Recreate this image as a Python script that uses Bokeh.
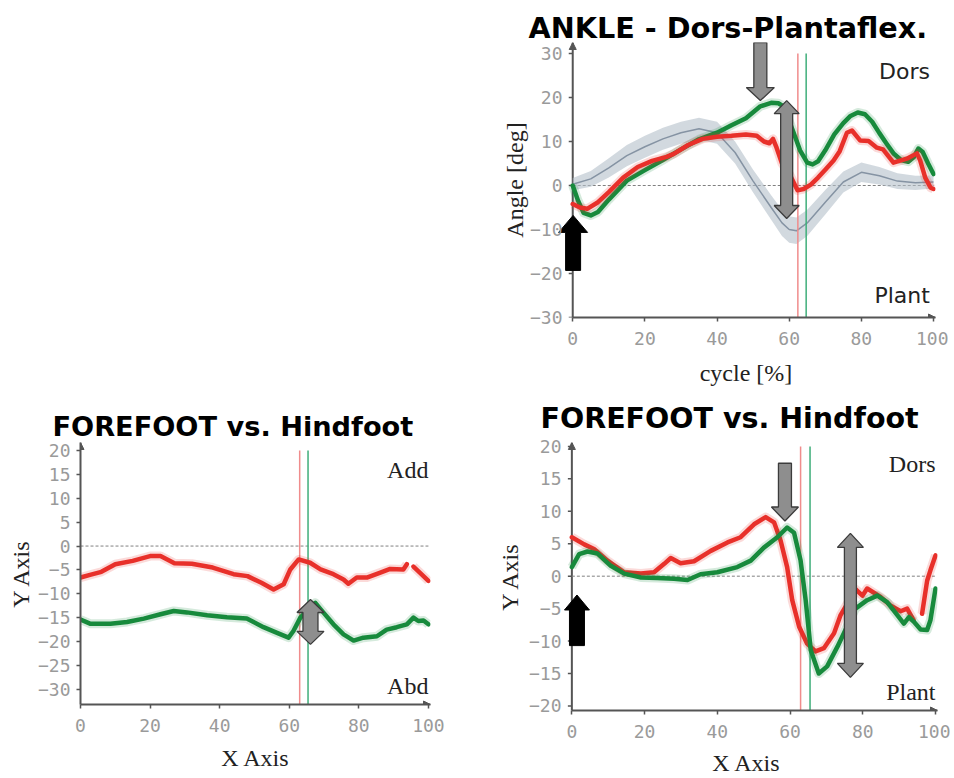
import numpy as np
from bokeh.plotting import figure
from bokeh.models import Range1d, FixedTicker, Label, Spacer, Arrow, NormalHead
from bokeh.layouts import row, column
from bokeh.embed import file_html
from bokeh.resources import INLINE

nan = float("nan")

# ---------------- data ----------------
x_ticks = [0, 20, 40, 60, 80, 100]

# ANKLE panel
ank_y_ticks = [-30, -20, -10, 0, 10, 20, 30]
ank_norm_x = [0, 5, 10, 15, 20, 25, 30, 35, 40, 45, 50, 55, 58, 60, 62, 65, 70, 75, 80, 85, 90, 95, 100]
ank_norm_mean = [0.3, 1.5, 4.0, 6.8, 8.8, 10.6, 12.0, 12.9, 12.0, 7.5, 1.0, -5.0, -8.5, -10.0, -10.3, -8.5, -3.8, 0.8, 3.0, 2.2, 1.0, 0.6, 0.8]
ank_norm_sd = [1.4, 1.8, 2.2, 2.4, 2.5, 2.5, 2.5, 2.5, 2.5, 2.5, 2.6, 2.8, 3.0, 3.0, 3.0, 3.0, 2.8, 2.4, 2.2, 2.0, 1.8, 1.6, 1.5]
ank_red_x = [0, 2, 4, 7, 10, 14, 18, 22, 26, 28, 32, 36, 40, 44, 48, 51, 53, 54.5, 55.5, 56.5, 58, 60, 62.3, 64, 66, 68, 70, 72.3, 74, 76, 77.4, 79.7, 82, 84.3, 86, 88.9, 92.6, 95.4, 96.3, 97.7, 99.2, 100]
ank_red = [-4.2, -5.0, -5.3, -3.8, -1.5, 1.8, 4.2, 5.6, 6.5, 7.2, 9.2, 10.6, 11.1, 11.3, 11.6, 11.3, 10.0, 9.6, 10.6, 8.6, 5.0, 2.7, -1.1, -0.8, 0.2, 1.8, 3.6, 5.7, 7.8, 12.0, 12.5, 10.2, 10.1, 8.6, 8.2, 5.2, 6.1, 7.3, 5.7, 1.8, -0.5, -0.8]
ank_green_x = [0, 1.5, 3, 5, 7, 10, 15, 20, 25, 30, 35, 40, 44, 48, 52, 55, 57, 58.4, 61, 63, 65, 66.5, 68, 70, 72.5, 75, 77, 79, 81, 83, 85, 87, 89, 91, 93, 94.5, 95.8, 97, 98.5, 100]
ank_green = [0.0, -3.5, -6.2, -6.8, -6.0, -3.2, 1.1, 3.5, 5.8, 8.2, 10.5, 12.0, 13.7, 15.3, 18.0, 18.8, 18.7, 18.0, 12.5, 8.0, 5.2, 4.8, 5.5, 8.0, 11.6, 14.2, 15.8, 16.6, 16.2, 14.5, 11.9, 9.5, 7.2, 5.8, 5.4, 6.4, 8.4, 7.6, 5.0, 2.6]
ank_vline_x = [62.4, 64.7]
ank_vline_top = 30

# FOREFOOT vs Hindfoot (Add/Abd)
ab_y_ticks = [-30, -25, -20, -15, -10, -5, 0, 5, 10, 15, 20]
ab_red_x = [0, 3, 6, 10, 15, 20, 23, 27, 32, 38, 44, 48, 52, 55.5, 58.4, 60.3, 62.7, 66, 69, 72.7, 75.6, 77, 79.4, 82.3, 86, 89, 92.8, 93.8, 94.7, 95.7, 97.6, 100]
ab_red = [-6.6, -6.0, -5.4, -3.8, -3.1, -2.1, -2.1, -3.6, -3.7, -4.5, -5.9, -6.3, -7.7, -9.1, -8.0, -4.9, -2.8, -3.5, -4.9, -5.9, -7.0, -7.9, -6.6, -6.6, -5.6, -4.8, -4.9, -3.8, nan, -4.3, -5.6, -7.3]
ab_green_x = [0, 2.9, 8.6, 13.4, 18.2, 23, 26.8, 30.6, 36.4, 42.1, 47.8, 52.6, 56.5, 59.8, 61.2, 63.2, 65, 67.5, 69.9, 72.7, 75.6, 78.5, 81.3, 85.2, 88, 90.9, 93.8, 95.7, 97.1, 98.6, 100]
ab_green = [-15.4, -16.3, -16.3, -15.9, -15.2, -14.3, -13.6, -13.9, -14.5, -14.9, -15.2, -17.0, -18.2, -19.2, -17.8, -15.0, -13.6, -11.9, -14.0, -16.4, -18.5, -19.8, -19.2, -18.9, -17.5, -17.0, -16.4, -15.0, -15.7, -15.6, -16.4]
ab_vline_x = [63.0, 65.4]
ab_vline_top = 20

# FOREFOOT vs Hindfoot (Dors/Plant)
dp_y_ticks = [-20, -15, -10, -5, 0, 5, 10, 15, 20]
dp_red_x = [0, 3.4, 6.1, 9.8, 14.4, 19, 22.6, 25.4, 27.2, 29.9, 33.6, 38.2, 42.8, 46.4, 50.1, 53.3, 55.6, 57.4, 59.2, 60.6, 62.5, 64.7, 67, 69.3, 72.1, 73.9, 76, 78, 79.9, 81.2, 84.9, 87.6, 90.4, 92.2, 94, 95.1, 96.3, 97.7, 98.6, 100]
dp_red = [6.0, 4.9, 4.2, 2.4, 0.6, 0.4, 0.6, 1.9, 2.8, 2.0, 2.3, 3.9, 5.2, 6.0, 8.0, 9.1, 8.3, 5.5, 1.4, -3.7, -7.8, -10.4, -11.6, -11.1, -8.8, -6.0, -4.0, -2.0, -3.0, -1.9, -3.2, -4.5, -5.4, -5.0, -6.8, nan, -5.8, -0.7, 0.9, 3.2]
dp_green_x = [0, 2, 4.3, 7, 10.7, 14.4, 19, 23.5, 28.1, 31.8, 35.4, 40, 45.5, 49.2, 52.8, 56.5, 59.2, 61.1, 62.9, 64.3, 65.7, 67.9, 70.2, 73, 74.8, 78, 81.2, 84, 86.7, 89.5, 91.3, 92.7, 94, 95.9, 97.7, 98.6, 100]
dp_green = [1.4, 3.4, 3.8, 3.5, 1.6, 0.4, -0.2, -0.3, -0.4, -0.6, 0.3, 0.6, 1.4, 2.4, 4.4, 6.0, 7.5, 6.7, 2.4, -3.7, -11.4, -15.0, -13.9, -10.9, -8.8, -5.0, -3.7, -3.0, -4.0, -6.0, -7.3, -6.3, -7.0, -8.2, -8.3, -6.8, -1.9]
dp_vline_x = [62.9, 65.5]
dp_vline_top = 20

# block arrows: (x centre, y tail, y tip, shaft px, head px, head length px, kind)
ank_arrows = [(0.1, -19.3, -6.8, 15, 29, 17, "black"), (52.0, 32.5, 19.3, 13, 28, 13, "gray"), (59.3, 19.3, -7.5, 12, 25, 13, "double")]
ab_arrows = [(66.1, -11.2, -20.6, 15, 27, 13, "double")]
dp_arrows = [(1.4, -10.7, -2.9, 15, 25, 15, "black"), (58.6, 17.4, 8.5, 13, 27, 14, "gray"), (76.6, 6.6, -15.6, 12, 26, 14, "double")]

RED = "#e8302a"
GREEN = "#178a3c"
VRED = "#f08c8c"
VGREEN = "#3fae7a"
AXC = "#555555"


def make_fig(xr, yr, fw, fh, borders, yticks, xlabel, ylabel, xl_stand, yl_stand, title, t_size, t_off, t_stand):
    l, r, t, b = borders
    p = figure(frame_width=fw, frame_height=fh, x_range=Range1d(*xr), y_range=Range1d(*yr),
               output_backend="svg", toolbar_location=None,
               min_border_left=l, min_border_right=r, min_border_top=t, min_border_bottom=b)
    p.grid.visible = False
    p.outline_line_color = None
    p.title.text = title
    p.title.text_font = "DejaVu Sans"
    p.title.text_font_style = "bold"
    p.title.text_font_size = t_size
    p.title.text_color = "black"
    p.title.align = "left"
    p.title.offset = t_off
    p.title.standoff = t_stand
    p.xaxis.ticker = FixedTicker(ticks=x_ticks)
    p.yaxis.ticker = FixedTicker(ticks=yticks)
    for ax in (p.xaxis[0], p.yaxis[0]):
        ax.axis_line_color = AXC
        ax.axis_line_width = 2
        ax.major_tick_line_color = AXC
        ax.major_tick_line_width = 1.5
        ax.major_tick_out = 4
        ax.major_tick_in = 0
        ax.minor_tick_line_color = None
        ax.major_label_text_font = "DejaVu Sans Mono"
        ax.major_label_text_font_size = "18px"
        ax.major_label_text_color = "#9a9a9a"
        ax.axis_label_text_font = "Liberation Serif"
        ax.axis_label_text_font_size = "24px"
        ax.axis_label_text_font_style = "normal"
        ax.axis_label_text_color = "#222222"
    p.xaxis.major_label_standoff = 10
    p.yaxis.major_label_standoff = 6
    p.xaxis.axis_label = xlabel
    p.yaxis.axis_label = ylabel
    p.xaxis.axis_label_standoff = xl_stand
    p.yaxis.axis_label_standoff = yl_stand
    p.xaxis.bounds = (0, xr[1])
    if xr[0] < 0:
        # frame extends left of x=0 so that marks at x=0 are not cut:
        # the y axis line and its ticks are drawn at x=0
        pxu = fw / (xr[1] - xr[0])
        gap = -xr[0] * pxu
        ya = p.yaxis[0]
        ya.axis_line_color = None
        ya.major_tick_line_color = None
        ya.major_tick_out = 0
        ya.major_label_standoff = int(round(10 - gap))
        p.segment(x0=[0], y0=[yr[0]], x1=[0], y1=[yr[1]], line_color=AXC, line_width=2)
        p.segment(x0=[-4 / pxu] * len(yticks), y0=yticks, x1=[0] * len(yticks), y1=yticks,
                  line_color=AXC, line_width=1.5)
    # axis arrow heads
    p.add_layout(Arrow(end=NormalHead(size=7, fill_color=AXC, line_color=AXC),
                       x_start=0, y_start=yr[1] - 0.5, x_end=0, y_end=yr[1], line_width=0, line_alpha=0))
    p.add_layout(Arrow(end=NormalHead(size=7, fill_color=AXC, line_color=AXC),
                       x_start=xr[1] - 0.5, y_start=yr[0], x_end=xr[1], y_end=yr[0], line_width=0, line_alpha=0))
    # zero reference line
    p.segment(x0=[x_ticks[0]], y0=[0], x1=[x_ticks[-1]], y1=[0], line_color="#808080", line_dash="3 2", line_width=1)
    return p


def add_vlines(p, xs, ybot, ytop):
    p.segment(x0=[xs[0]], y0=[ybot], x1=[xs[0]], y1=[ytop], line_color=VRED, line_width=1.5)
    p.segment(x0=[xs[1]], y0=[ybot], x1=[xs[1]], y1=[ytop], line_color=VGREEN, line_width=1.5)


def add_curve(p, x, y, color):
    p.line(x, y, line_color=color, line_width=9, line_alpha=0.18, line_join="round")
    p.line(x, y, line_color=color, line_width=4.5, line_join="round", line_cap="round")


def add_arrows(p, specs, xs, ys):
    for (xc, yt, yp, sw, hw, hl, kind) in specs:
        d = 1 if yp > yt else -1
        s = sw / 2 / xs
        h = hw / 2 / xs
        L = hl / ys
        base = yp - d * L
        if kind == "double":
            tb = yt + d * L
            px = [xc, xc + h, xc + s, xc + s, xc + h, xc, xc - h, xc - s, xc - s, xc - h]
            py = [yt, tb, tb, base, base, yp, base, base, tb, tb]
        else:
            px = [xc - s, xc + s, xc + s, xc + h, xc, xc - h, xc - s]
            py = [yt, yt, base, base, yp, base, base]
        if kind == "black":
            p.patch(px, py, fill_color="black", line_color="black", line_width=1)
        else:
            p.patch(px, py, fill_color="#8e8e8e", line_color="#3c3c3c", line_width=1.3)


# ---------------- ANKLE ----------------
ank_xr = (-4.5, 100.55)
ank_yr = (-30, 32.5)
ank_fw, ank_fh = 379, 275
pa = make_fig(ank_xr, ank_yr, ank_fw, ank_fh, (82, 13, 42, 71), ank_y_ticks, "cycle [%]", "Angle [deg]", 12, -1,
              "ANKLE - Dors-Plantaflex.", "28.7px", -28, -5)
nm = np.array(ank_norm_mean)
sd = np.array(ank_norm_sd)
pa.varea(x=ank_norm_x, y1=nm - sd, y2=nm + sd, fill_color="#b4bfca", fill_alpha=0.6)
pa.line(ank_norm_x, ank_norm_mean, line_color="#8593a3", line_width=1.5)
add_vlines(pa, ank_vline_x, -30, ank_vline_top)
add_curve(pa, ank_green_x, ank_green, GREEN)
add_curve(pa, ank_red_x, ank_red, RED)
add_arrows(pa, ank_arrows, ank_fw / (ank_xr[1] - ank_xr[0]), ank_fh / (ank_yr[1] - ank_yr[0]))
pa.add_layout(Label(x=99, y=26, text="Dors", text_font="DejaVu Sans", text_font_size="22px",
                    text_align="right", text_baseline="middle", text_color="#222222"))
pa.add_layout(Label(x=99, y=-25, text="Plant", text_font="DejaVu Sans", text_font_size="22px",
                    text_align="right", text_baseline="middle", text_color="#222222"))

# ---------------- Add/Abd ----------------
ab_xr = (0, 100.6)
ab_yr = (-33.2, 21.7)
ab_fw, ab_fh = 350, 262
pb = make_fig(ab_xr, ab_yr, ab_fw, ab_fh, (80, 44, 54, 68), ab_y_ticks, "X Axis", "Y Axis", 10, 1,
              "FOREFOOT vs. Hindfoot", "27.2px", -28, 1)
add_vlines(pb, ab_vline_x, ab_yr[0], ab_vline_top)
add_curve(pb, ab_red_x, ab_red, RED)
add_curve(pb, ab_green_x, ab_green, GREEN)
add_arrows(pb, ab_arrows, ab_fw / (ab_xr[1] - ab_xr[0]), ab_fh / (ab_yr[1] - ab_yr[0]))
pb.add_layout(Label(x=100, y=16, text="Add", text_font="Liberation Serif", text_font_size="24px",
                    text_align="right", text_baseline="middle", text_color="#222222"))
pb.add_layout(Label(x=100, y=-29.4, text="Abd", text_font="Liberation Serif", text_font_size="24px",
                    text_align="right", text_baseline="middle", text_color="#222222"))

# ---------------- Dors/Plant ----------------
dp_xr = (-4.5, 100.55)
dp_yr = (-20.7, 20.6)
dp_fw, dp_fh = 382, 268
pc = make_fig(dp_xr, dp_yr, dp_fw, dp_fh, (81, 13, 54, 68), dp_y_ticks, "X Axis", "Y Axis", 9, 3,
              "FOREFOOT vs. Hindfoot", "28.5px", -15, 15)
add_vlines(pc, dp_vline_x, dp_yr[0], dp_vline_top)
add_curve(pc, dp_red_x, dp_red, RED)
add_curve(pc, dp_green_x, dp_green, GREEN)
add_arrows(pc, dp_arrows, dp_fw / (dp_xr[1] - dp_xr[0]), dp_fh / (dp_yr[1] - dp_yr[0]))
pc.add_layout(Label(x=100, y=17.3, text="Dors", text_font="Liberation Serif", text_font_size="24px",
                    text_align="right", text_baseline="middle", text_color="#222222"))
pc.add_layout(Label(x=100, y=-17.8, text="Plant", text_font="Liberation Serif", text_font_size="24px",
                    text_align="right", text_baseline="middle", text_color="#222222"))

layout = column(row(Spacer(width=474, height=388), pa), row(pb, pc))
open("out.html", "w").write(file_html(layout, INLINE))
